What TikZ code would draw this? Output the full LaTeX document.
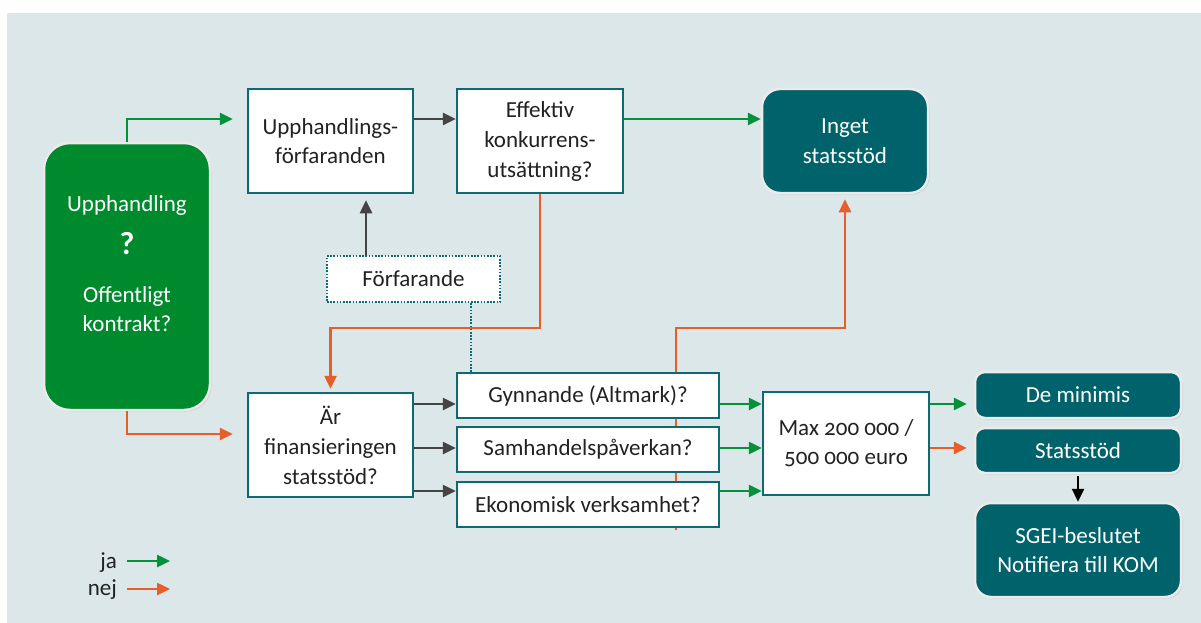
\documentclass[tikz,border=0pt]{standalone}
\usepackage{fontspec}
\setmainfont[Numbers=OldStyle]{Carlito}
\usetikzlibrary{arrows.meta,shadows}
\definecolor{bgc}{HTML}{DBE7E9}
\definecolor{jagreen}{HTML}{05903A}
\definecolor{nejorange}{HTML}{E65F2B}
\definecolor{tealfill}{HTML}{00626A}
\definecolor{tealline}{HTML}{0E6A72}
\definecolor{greyarr}{HTML}{444444}
\definecolor{txt}{HTML}{222222}
\definecolor{boxgreen}{HTML}{008A2E}
\pgfdeclarelayer{bglayer}
\pgfsetlayers{bglayer,main}
\begin{document}
\begin{tikzpicture}[x=1pt,y=-1pt,
  fs/.style={font=\fontsize{23}{29}\selectfont},
  wbox/.style={fs,draw=tealline,line width=2.5pt,fill=white,text=txt,align=center,inner sep=0pt},
  rbox/.style={fs,draw=white!92!black,line width=2.5pt,fill=tealfill,text=white,align=center,inner sep=0pt,
    drop shadow={opacity=0.25,shadow xshift=1.5pt,shadow yshift=-1.5pt}},
  tip/.style={-{Triangle[length=13pt,width=12pt]}},
  ja/.style={tip,draw=jagreen,line width=2.5pt},
  nej/.style={tip,draw=nejorange,line width=2.5pt},
  grey/.style={tip,draw=greyarr,line width=2.5pt},
  dotline/.style={draw=tealline,line width=2.2pt,dash pattern=on 1.6pt off 1.6pt},
  lbl/.style={fs,text=txt,inner sep=0pt}]
\useasboundingbox (0,0) rectangle (1201,623);
% levels
\coordinate (rowA) at (0,119);
\coordinate (rowB) at (0,328);
\coordinate (rowNej) at (0,434);
\coordinate (r1) at (0,404);
\coordinate (r2) at (0,448);
\coordinate (r3) at (0,491);
\coordinate (xf) at (366,0);
\coordinate (xd) at (471,0);
\coordinate (xo) at (676,0);
\coordinate (nejstart) at (676,530);

% nodes
\node[rbox,fill=boxgreen,rounded corners=26pt,minimum width=166pt,minimum height=267pt] (upph) at (127,276.5) {};
\node[fs,text=white,inner sep=0pt] (t1) at (127,205) {Upphandling};
\node[text=white,inner sep=0pt,font=\fontsize{32}{32}\selectfont\bfseries] (t2) at (127,244) {?};
\node[fs,text=white,inner sep=0pt,align=center] (t3) at (127,309) {Offentligt\\kontrakt?};

\node[wbox,minimum width=165pt,minimum height=104pt] (upf) at (330.5,141) {Upphandlings-\\förfaranden};
\node[wbox,minimum width=166pt,minimum height=104pt,font=\fontsize{23}{30}\selectfont] (eff) at (540,141) {Effektiv\\konkurrens-\\utsättning?};
\node[rbox,rounded corners=18pt,minimum width=166pt,minimum height=104pt,font=\fontsize{23}{30}\selectfont] (inget) at (845,141) {Inget\\statsstöd};
\node[fs,fill=white,text=txt,dotline,minimum width=173pt,minimum height=46pt,inner sep=0pt] (forf) at (413.5,279) {Förfarande};

\node[wbox,minimum width=165pt,minimum height=104pt,font=\fontsize{23}{30}\selectfont] (ar) at (330.5,445) {Är\\finansieringen\\statsstöd?};
\node[wbox,minimum width=262pt,minimum height=45pt] (gyn) at (588,395.5) {Gynnande (Altmark)?};
\node[wbox,minimum width=262pt,minimum height=45pt] (sam) at (588,449.5) {Samhandelspåverkan?};
\node[wbox,minimum width=262pt,minimum height=45pt] (eko) at (588,504.5) {Ekonomisk verksamhet?};
\node[wbox,minimum width=166pt,minimum height=103pt] (max) at (846,443.5) {Max 200 000 /\\500 000 euro};

\node[rbox,rounded corners=10pt,minimum width=206pt,minimum height=46pt] (demin) at (1078,395) {De minimis};
\node[rbox,rounded corners=10pt,minimum width=206pt,minimum height=45pt] (stat) at (1078,450.5) {Statsstöd};
\node[rbox,rounded corners=16pt,minimum width=206pt,minimum height=94pt] (sgei) at (1078,550) {SGEI-beslutet\\Notifiera till KOM};

% legend
\node[lbl,anchor=east] (lja) at (117,563) {ja};
\node[lbl,anchor=east] (lnej) at (117,590) {nej};
\coordinate (ljae) at (170,561);
\coordinate (lneje) at (170,589);
\draw[ja] ([xshift=10pt]lja.east |- ljae) -- (ljae);
\draw[nej] ([xshift=10pt]lnej.east |- lneje) -- (lneje);

% background and the hidden orange line
\begin{pgfonlayer}{bglayer}
\fill[white] (0,0) rectangle (1201,623);
\fill[bgc] (7,13) rectangle (1201,623);
\draw[nej] (nejstart) -- (xo |- rowB) -| ([yshift=-5pt]inget.south);
\end{pgfonlayer}

% connectors
\draw[ja] (upph.north) |- ([xshift=-14pt]upf.west |- rowA);
\draw[nej] (upph.south) |- ([xshift=-14pt]ar.west |- rowNej);
\draw[grey] (upf.east |- rowA) -- (eff.west |- rowA);
\draw[ja] (eff.east |- rowA) -- (inget.west |- rowA);
\draw[grey] (forf.north -| xf) -- ([yshift=-6pt]upf.south -| xf);
\draw[dotline] (forf.south -| xd) -- (gyn.north -| xd);
\draw[nej] (eff.south) |- (ar.north |- rowB) -- ([yshift=3pt]ar.north);
\draw[grey] (ar.east |- r1) -- (gyn.west |- r1);
\draw[grey] (ar.east |- r2) -- (sam.west |- r2);
\draw[grey] (ar.east |- r3) -- (eko.west |- r3);
\draw[ja] (gyn.east |- r1) -- (max.west |- r1);
\draw[ja] (sam.east |- r2) -- (max.west |- r2);
\draw[ja] (eko.east |- r3) -- (max.west |- r3);
\draw[ja] (max.east |- r1) -- ([xshift=-7pt]demin.west |- r1);
\draw[nej] (max.east |- r2) -- ([xshift=-7pt]stat.west |- r2);
\draw[tip,draw=black,line width=2.5pt] ([yshift=-2pt]stat.south) -- (sgei.north);
\end{tikzpicture}
\end{document}
